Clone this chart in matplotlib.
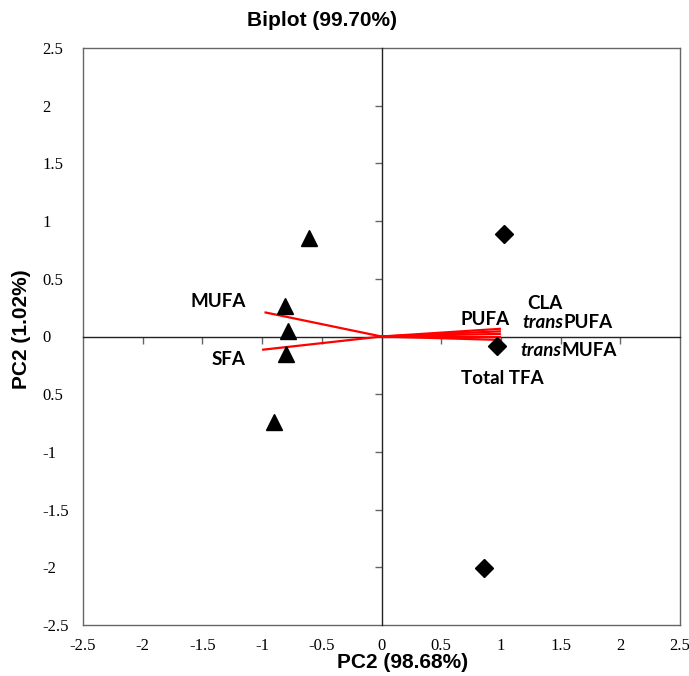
import matplotlib
matplotlib.use("Agg")
import matplotlib.pyplot as plt
import numpy as np

# ---- data ----
tri_x = [-0.61, -0.81, -0.78, -0.80, -0.90]
tri_y = [0.85, 0.26, 0.05, -0.15, -0.74]
dia_x = [1.03, 0.97, 0.86]
dia_y = [0.89, -0.08, -2.01]

vec_names = ["MUFA", "SFA", "CLA", "PUFA", "transPUFA", "transMUFA", "Total TFA"]
vec_x = [-0.98, -1.00, 1.00, 1.00, 1.00, 1.00, 1.00]
vec_y = [0.21, -0.115, 0.067, 0.045, 0.023, 0.0, -0.03]

tick_vals = [-2.5, -2, -1.5, -1, -0.5, 0, 0.5, 1, 1.5, 2, 2.5]
xtick_labels = ["-2.5", "-2", "-1.5", "-1", "-0.5", "0", "0.5", "1", "1.5", "2", "2.5"]
ytick_labels = ["-2.5", "-2", "-1.5", "-1", "0.5", "0", "0.5", "1", "1.5", "2", "2.5"]

title = "Biplot (99.70%)"
xlabel = "PC2 (98.68%)"
ylabel = "PC2 (1.02%)"

# label placement (left edge x, centre y), layout only
label_pos = {
    "MUFA": (-1.60, 0.30),
    "SFA": (-1.42, -0.20),
    "CLA": (1.22, 0.29),
    "PUFA": (0.66, 0.145),
    "transPUFA": (1.18, 0.12),
    "transMUFA": (1.16, -0.12),
    "Total TFA": (0.67, -0.36),
}

W, H = 689, 676
fig = plt.figure(figsize=(W / 100, H / 100), dpi=100)
rect = [83 / W, (H - 625) / H, (680 - 83) / W, (625 - 48) / H]

serif = ["Liberation Serif", "DejaVu Serif"]
sans = ["Liberation Sans", "DejaVu Sans"]
lab_font = ["Lato", "DejaVu Sans"]
LFS = 13.5

# frame axes with tick labels
axf = fig.add_axes(rect)
axf.set_xlim(-2.5, 2.5)
axf.set_ylim(-2.5, 2.5)
axf.set_xticks(tick_vals)
axf.set_xticklabels(xtick_labels, family=serif, fontsize=12)
axf.set_yticks(tick_vals)
axf.set_yticklabels(ytick_labels, family=serif, fontsize=12)
axf.tick_params(axis="both", length=0)
axf.tick_params(axis="x", pad=9)
axf.tick_params(axis="y", pad=29.5)
for lab in axf.get_yticklabels():
    lab.set_horizontalalignment("left")
for s in axf.spines.values():
    s.set_color("#666666")
    s.set_linewidth(1.0)

# main data axes with cross axes through origin
ax = fig.add_axes(rect)
ax.patch.set_visible(False)
ax.set_xlim(-2.5, 2.5)
ax.set_ylim(-2.5, 2.5)
ax.spines["top"].set_visible(False)
ax.spines["right"].set_visible(False)
ax.spines["left"].set_position(("data", 0))
ax.spines["bottom"].set_position(("data", 0))
for s in ("left", "bottom"):
    ax.spines[s].set_color("#222222")
    ax.spines[s].set_linewidth(1.0)
inner = [v for v in tick_vals if abs(v) < 2.5 and v != 0]
ax.set_xticks(inner)
ax.set_yticks(inner)
ax.set_xticklabels([])
ax.set_yticklabels([])
ax.tick_params(axis="both", direction="out", length=5, width=1.0, color="#666666")

# vectors
for vx, vy in zip(vec_x, vec_y):
    ax.plot([0, vx], [0, vy], color="#ff0000", lw=1.6, solid_capstyle="butt", zorder=3)

# points
ax.plot(tri_x, tri_y, linestyle="none", marker="^", markersize=12, color="black", zorder=4)
ax.plot(dia_x, dia_y, linestyle="none", marker="D", markersize=9, color="black", zorder=4)

# labels
fig.canvas.draw()
inv = ax.transData.inverted()
for name in vec_names:
    x, y = label_pos[name]
    if name.startswith("trans"):
        t1 = ax.text(x, y, "trans", family=lab_font, fontsize=LFS, fontweight="bold",
                     fontstyle="italic", ha="left", va="center", zorder=5)
        bb = t1.get_window_extent(renderer=fig.canvas.get_renderer())
        x2 = inv.transform((bb.x1, bb.y0))[0]
        ax.text(x2, y, name[5:], family=lab_font, fontsize=LFS, fontweight="bold",
                ha="left", va="center", zorder=5)
    else:
        ax.text(x, y, name, family=lab_font, fontsize=LFS, fontweight="bold",
                ha="left", va="center", zorder=5)

fig.text(322 / W, 1 - 20 / H, title, family=sans, fontsize=15, fontweight="bold",
         ha="center", va="center")
fig.text(403 / W, 1 - 663 / H, xlabel, family=sans, fontsize=15, fontweight="bold",
         ha="center", va="center")
fig.text(22 / W, 1 - 329 / H, ylabel, family=sans, fontsize=15, fontweight="bold",
         ha="center", va="center", rotation=90)

fig.savefig("out.png", dpi=100)
